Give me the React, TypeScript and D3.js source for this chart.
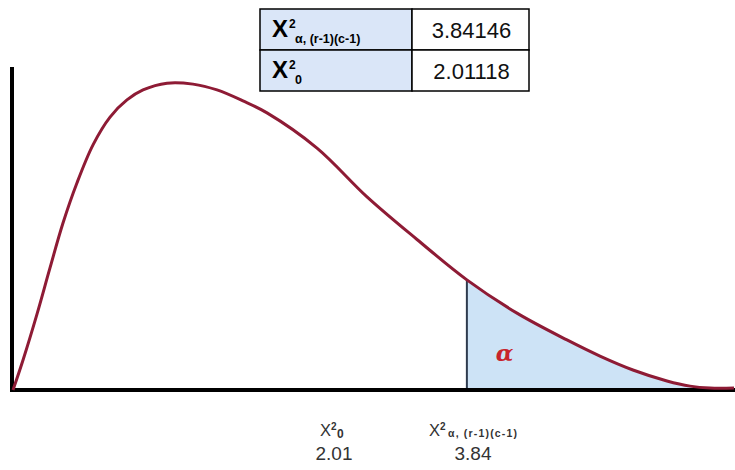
import React from 'react';
import * as d3 from 'd3';

const W = 735;
const H = 470;

// curve: x in chi-square units, y as relative density
const curveX = [0, 0.085, 0.203, 0.313, 0.423, 0.541, 0.677, 0.821, 0.964, 1.1, 1.303, 1.523, 1.726, 1.946, 2.149, 2.572, 2.995, 3.418, 3.84, 4.264, 4.687, 4.966, 5.245, 5.533, 5.728, 5.897, 6.1];
const curveY = [0, 0.093, 0.235, 0.378, 0.517, 0.641, 0.759, 0.845, 0.898, 0.929, 0.95, 0.947, 0.929, 0.895, 0.858, 0.749, 0.598, 0.466, 0.341, 0.238, 0.155, 0.105, 0.062, 0.028, 0.012, 0.006, 0.006];

const criticalValue = 3.84;
const tableSubs = ['α, (r-1)(c-1)', '0'];
const tableValues = ['3.84146', '2.01118'];
const bottomSubs = ['0', 'α, (r-1)(c-1)'];
const bottomValues = ['2.01', '3.84'];

const curveColor = '#8e1b35';
const font = '"Liberation Sans", Arial, sans-serif';

export default function App() {
  const pts = curveX.map((x, i) => ({ x, y: curveY[i] }));

  const x = d3.scaleLinear().domain([0, 6.1]).range([13, 734]);
  const y = d3.scaleLinear().domain([0, 1]).range([390, 67]);

  const line = d3
    .line<{ x: number; y: number }>()
    .x((d) => x(d.x))
    .y((d) => y(d.y))
    .curve(d3.curveCatmullRom.alpha(0.5));

  const area = d3
    .area<{ x: number; y: number }>()
    .x((d) => x(d.x))
    .y0(y(0))
    .y1((d) => y(d.y))
    .curve(d3.curveCatmullRom.alpha(0.5));

  const tail = pts.filter((d) => d.x >= criticalValue);
  const critY = curveY[curveX.indexOf(criticalValue)];

  // table layout
  const tx = 260;
  const ty = 9;
  const rowH = 41;
  const col1 = 152;
  const col2 = 117;

  // bottom label anchors (pixels)
  const bottomLeft = [320, 429];
  const bottomCenter = [334, 473];

  return (
    <svg
      width={W}
      height={H}
      style={{ position: 'absolute', left: 0, top: 0, background: '#fff' }}
      fontFamily={font}
    >
      {/* shaded rejection region */}
      <path d={area(tail) || ''} fill="#cde3f6" />
      <line
        x1={x(criticalValue)}
        x2={x(criticalValue)}
        y1={y(0)}
        y2={y(critY)}
        stroke="#2e3b4e"
        strokeWidth={2}
      />

      {/* axes */}
      <line x1={12} x2={12} y1={y(0) + 2} y2={67} stroke="#000" strokeWidth={4} />
      <line x1={10} x2={W} y1={y(0)} y2={y(0)} stroke="#000" strokeWidth={4} />

      {/* density curve */}
      <path d={line(pts) || ''} fill="none" stroke={curveColor} strokeWidth={3} strokeLinejoin="round" />

      <text
        x={x(4.16)}
        y={y(0.108)}
        dominantBaseline="middle"
        textAnchor="middle"
        fontFamily='"DejaVu Serif", serif'
        fontStyle="italic"
        fontWeight="bold"
        fontSize={23}
        fill="#c8232c"
      >
        α
      </text>

      {/* summary table */}
      {tableValues.map((v, i) => {
        const ry = ty + i * rowH;
        return (
          <g key={v}>
            <rect x={tx} y={ry} width={col1} height={rowH} fill="#dae6f8" stroke="#000" strokeWidth={1.5} />
            <rect x={tx + col1} y={ry} width={col2} height={rowH} fill="#fff" stroke="#000" strokeWidth={1.5} />
            <text x={tx + 12} y={ry + 28} fontSize={24} fontWeight="bold" fill="#000">X</text>
            <text x={tx + 29} y={ry + 19} fontSize={12} fontWeight="bold" fill="#000">2</text>
            <text x={tx + 35} y={ry + 34} fontSize={12.5} fontWeight="bold" fill="#000">
              {tableSubs[i]}
            </text>
            <text
              x={tx + col1 + col2 / 2 + 1}
              y={ry + 29}
              textAnchor="middle"
              fontSize={22}
              fill="#111"
            >
              {v}
            </text>
          </g>
        );
      })}

      {/* bottom labels */}
      {bottomValues.map((v, i) => (
        <g key={v} fill="#333">
          <text x={bottomLeft[i]} y={436} fontSize={16.5}>X</text>
          <text x={bottomLeft[i] + 11} y={430} fontSize={10} fontWeight="bold">2</text>
          {i === 0 ? (
            <text x={bottomLeft[i] + 17} y={438} fontSize={12} fontWeight="bold">
              {bottomSubs[i]}
            </text>
          ) : (
            <text
              x={bottomLeft[i] + 19}
              y={437}
              fontSize={10.5}
              fontWeight="bold"
              textLength={69}
              lengthAdjust="spacing"
            >
              {bottomSubs[i]}
            </text>
          )}
          <text x={bottomCenter[i]} y={460} textAnchor="middle" fontSize={19}>
            {v}
          </text>
        </g>
      ))}
    </svg>
  );
}
